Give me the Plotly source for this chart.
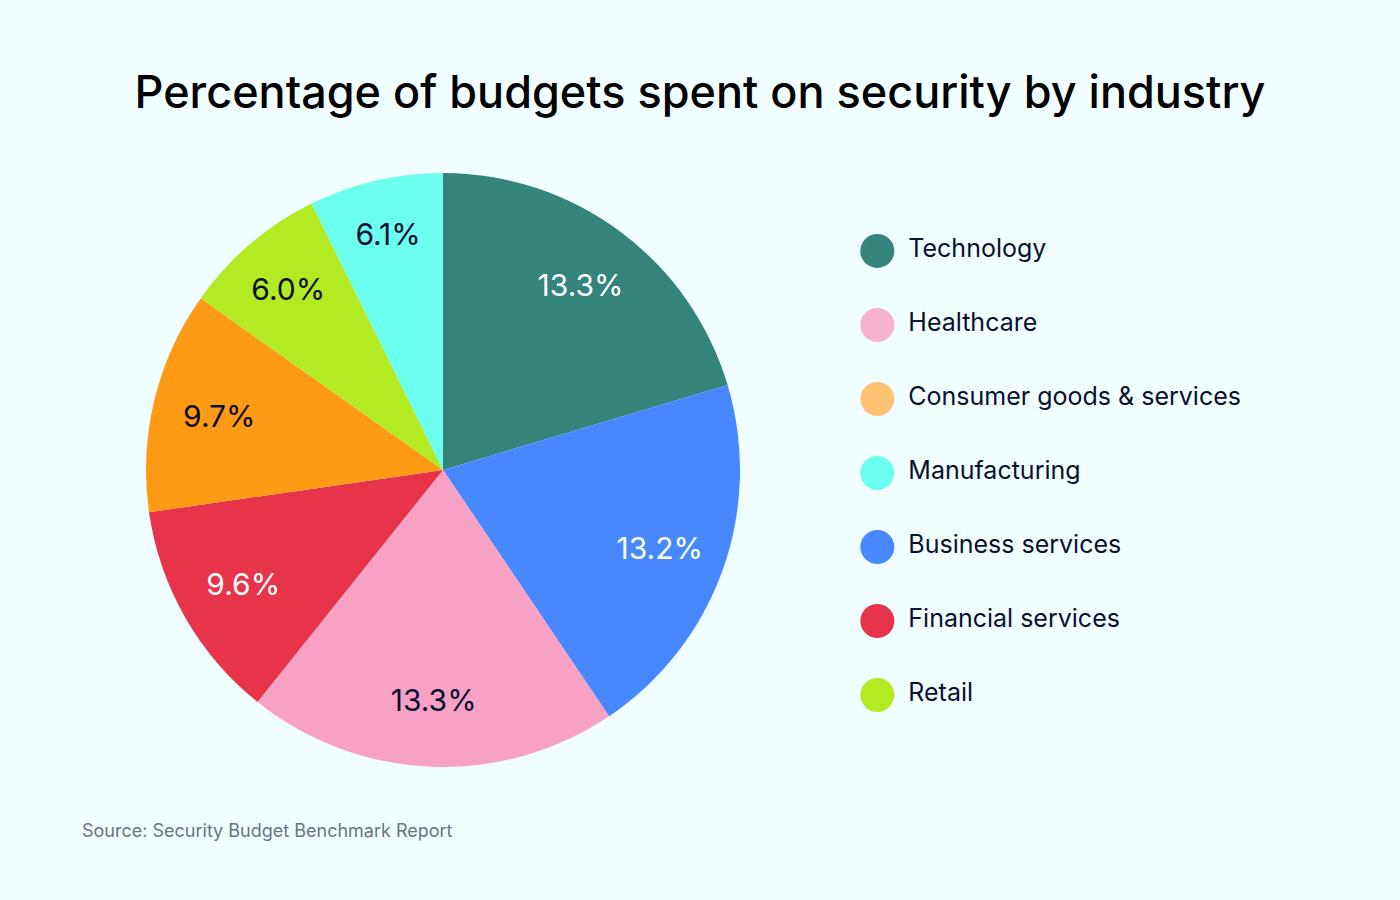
import plotly.graph_objects as go

# slices in drawing order (clockwise from 12 o'clock)
slice_names = ["Technology", "Business services", "Healthcare", "Financial services",
               "Consumer goods & services", "Retail", "Manufacturing"]
slice_labels = ["13.3%", "13.2%", "13.3%", "9.6%", "9.7%", "6.0%", "6.1%"]
# slice sizes as drawn in the picture (share of the circle, %)
slice_shares = [20.4, 20.2, 20.2, 12.0, 12.1, 7.9, 7.3]
slice_colors = ["#34847B", "#4788FF", "#F7A2C5", "#E8344B", "#FF9A15", "#B3EB23", "#6AFFEE"]
slice_text_colors = ["#FFFFFF", "#FFFFFF", "#0B1030", "#FFFFFF", "#0B1030", "#0B1030", "#0B1030"]

# legend, in its own order
legend_names = ["Technology", "Healthcare", "Consumer goods & services", "Manufacturing",
                "Business services", "Financial services", "Retail"]
legend_colors = ["#34847B", "#F5B3CE", "#FDC273", "#6AFFEE", "#4788FF", "#E8344B", "#B3EB23"]

BG = "#F0FEFF"
INK = "#0B1030"
FONT = "Inter, Roboto, sans-serif"
PIE_DOMAIN = dict(x=[0.1043, 0.5286], y=[0.1478, 0.8078])

fig = go.Figure()

# solid pie, no text
fig.add_trace(go.Pie(
    labels=slice_names,
    values=slice_shares,
    textinfo="none",
    marker=dict(colors=slice_colors, line=dict(width=0)),
    sort=False,
    direction="clockwise",
    rotation=0,
    showlegend=False,
    hoverinfo="skip",
    domain=PIE_DOMAIN,
))

# transparent ring on top, only to push the labels outward
fig.add_trace(go.Pie(
    labels=slice_names,
    values=slice_shares,
    hole=0.55,
    text=slice_labels,
    textinfo="text",
    textposition="inside",
    insidetextorientation="horizontal",
    textfont=dict(size=30, color=slice_text_colors, family=FONT),
    marker=dict(colors=["rgba(0,0,0,0)"] * len(slice_names), line=dict(width=0)),
    sort=False,
    direction="clockwise",
    rotation=0,
    showlegend=False,
    hoverinfo="label+text",
    domain=PIE_DOMAIN,
))

# custom legend
fig.add_trace(go.Scatter(
    x=[0] * len(legend_names),
    y=legend_names,
    mode="markers",
    marker=dict(size=34, color=legend_colors, line=dict(width=0)),
    showlegend=False,
    hoverinfo="skip",
))
fig.add_trace(go.Scatter(
    x=[0.83] * len(legend_names),
    y=legend_names,
    mode="text",
    text=legend_names,
    textposition="middle right",
    textfont=dict(size=25, color=INK, family=FONT),
    showlegend=False,
    hoverinfo="skip",
))

fig.update_layout(
    width=1400,
    height=900,
    margin=dict(l=0, r=0, t=0, b=0),
    paper_bgcolor=BG,
    plot_bgcolor=BG,
    xaxis=dict(domain=[0.6, 1.0], range=[-1, 14], visible=False, fixedrange=True),
    yaxis=dict(domain=[0, 1], type="category", range=[8.77, -3.39],
               visible=False, fixedrange=True),
    title=dict(
        text="Percentage of budgets spent on security by industry",
        x=0.5, xanchor="center", y=0.897, yanchor="middle",
        font=dict(size=45, color="#000000", family=FONT, weight=500),
    ),
    annotations=[dict(
        text="Source: Security Budget Benchmark Report",
        x=80 / 1400, y=1 - 830 / 900, xref="paper", yref="paper",
        xanchor="left", yanchor="middle", showarrow=False,
        font=dict(size=18, color="#6B7580", family=FONT),
    )],
)

fig.write_html("out.html", config={"displayModeBar": False},
               post_script="document.body.style.margin='0';")
